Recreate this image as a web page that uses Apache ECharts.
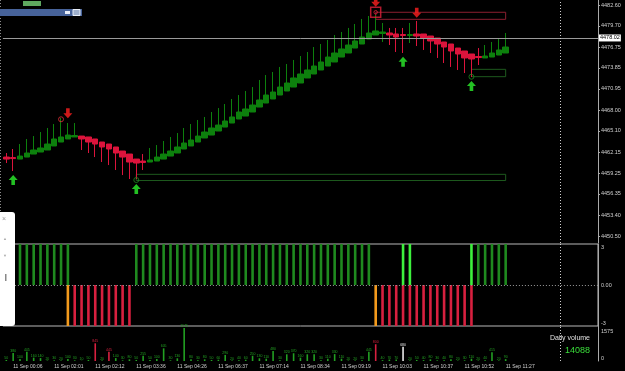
<!DOCTYPE html>
<html>
<head>
<meta charset="utf-8">
<script src="https://cdn.jsdelivr.net/npm/echarts@6.0.0/dist/echarts.min.js"></script>
<style>
  html, body { margin: 0; padding: 0; background: #000; }
  #chart { width: 625px; height: 371px; }
</style>
</head>
<body>
<div id="chart"></div>
<script>
// bar slots on the time axis (74 bars + empty shift area on the right)
const barSlots = 87
const timeLabels = ['11 Sep 00:06', '11 Sep 02:01', '11 Sep 02:12', '11 Sep 03:36', '11 Sep 04:26', '11 Sep 06:37',
  '11 Sep 07:14', '11 Sep 08:34', '11 Sep 09:19', '11 Sep 10:03', '11 Sep 10:37', '11 Sep 10:52', '11 Sep 11:27']
const timeLabelBars = [1, 7, 13, 19, 25, 31, 37, 43, 49, 55, 61, 67, 73]
const priceTicks = [4450.50, 4453.40, 4456.35, 4459.25, 4462.15, 4465.10, 4468.00, 4470.95, 4473.85, 4476.75, 4479.70, 4482.60]
const lastPrice = 4478.02

// heikin ashi candles
const haOpen = [4461.47, 4461.40, 4461.19, 4461.47, 4461.89, 4462.17, 4462.45, 4463.01, 4463.56, 4463.98,
  4464.26, 4464.39, 4464.26, 4463.98, 4463.56, 4463.28, 4462.87, 4462.31, 4461.89, 4461.19,
  4460.92, 4460.78, 4460.92, 4461.19, 4461.61, 4462.03, 4462.59, 4463.01, 4463.56, 4464.12,
  4464.53, 4465.09, 4465.64, 4466.20, 4466.76, 4467.17, 4467.73, 4468.42, 4468.98, 4469.54,
  4470.09, 4470.65, 4471.20, 4471.76, 4472.46, 4473.01, 4473.57, 4474.12, 4474.68, 4475.37,
  4475.93, 4476.62, 4477.18, 4477.87, 4478.43, 4478.64, 4478.71, 4478.57, 4478.50, 4478.36,
  4478.57, 4478.57, 4478.29, 4478.01, 4477.46, 4477.18, 4476.62, 4476.21, 4475.79, 4475.44,
  4475.24, 4475.37, 4475.65, 4475.93]
const haClose = [4461.19, 4461.26, 4461.61, 4462.03, 4462.45, 4462.73, 4463.28, 4463.98, 4464.26, 4464.53,
  4464.46, 4463.98, 4463.56, 4463.28, 4462.87, 4462.59, 4462.03, 4461.47, 4460.78, 4460.64,
  4460.71, 4461.06, 4461.47, 4461.89, 4462.31, 4462.87, 4463.42, 4463.84, 4464.39, 4464.95,
  4465.51, 4465.92, 4466.48, 4467.04, 4467.73, 4468.15, 4468.70, 4469.40, 4470.09, 4470.51,
  4471.20, 4471.76, 4472.46, 4473.01, 4473.57, 4474.12, 4474.68, 4475.37, 4475.93, 4476.49,
  4477.04, 4477.60, 4478.15, 4478.71, 4478.99, 4478.85, 4478.43, 4478.15, 4478.36, 4478.50,
  4478.29, 4478.01, 4477.60, 4477.18, 4476.76, 4476.21, 4475.79, 4475.24, 4475.10, 4475.30,
  4475.51, 4475.93, 4476.35, 4476.76]
const haLow = [4460.64, 4459.53, 4461.19, 4461.47, 4461.89, 4462.17, 4462.45, 4463.01, 4463.56, 4463.98,
  4464.26, 4462.45, 4462.03, 4461.47, 4460.78, 4460.36, 4459.67, 4458.97, 4458.42, 4458.42,
  4459.67, 4460.78, 4460.92, 4461.19, 4461.61, 4462.03, 4462.59, 4463.01, 4463.56, 4464.12,
  4464.53, 4465.09, 4465.64, 4466.20, 4466.76, 4467.17, 4467.73, 4468.42, 4468.98, 4469.54,
  4470.09, 4470.65, 4471.20, 4471.76, 4472.46, 4473.01, 4473.57, 4474.12, 4474.68, 4475.37,
  4475.93, 4476.62, 4477.18, 4477.87, 4478.43, 4477.46, 4477.04, 4476.07, 4475.93, 4477.32,
  4476.90, 4476.35, 4475.93, 4475.24, 4474.54, 4473.99, 4473.57, 4473.15, 4472.59, 4474.26,
  4475.24, 4475.37, 4475.65, 4475.93]
const haHigh = [4462.03, 4462.59, 4463.28, 4463.98, 4464.39, 4464.95, 4465.51, 4466.06, 4466.90, 4466.20,
  4466.20, 4464.39, 4464.26, 4463.98, 4463.56, 4463.28, 4462.87, 4462.31, 4461.89, 4461.19,
  4461.89, 4462.73, 4463.14, 4463.70, 4464.26, 4464.81, 4465.51, 4466.06, 4466.62, 4467.04,
  4467.73, 4468.28, 4468.84, 4469.54, 4470.09, 4470.65, 4471.20, 4472.18, 4472.87, 4473.29,
  4473.99, 4474.40, 4474.96, 4475.51, 4476.07, 4476.76, 4477.18, 4477.74, 4478.43, 4478.85,
  4479.41, 4479.96, 4480.66, 4481.07, 4481.21, 4480.10, 4479.41, 4479.41, 4479.41, 4480.10,
  4480.38, 4478.57, 4478.29, 4478.01, 4477.46, 4477.18, 4476.62, 4476.21, 4475.79, 4476.62,
  4477.04, 4477.46, 4478.01, 4478.71]

// signal markers [bar, price]
const buyArrows = [[1, 4458.28], [19, 4457.02], [58, 4474.72], [68, 4471.34]]
const sellArrows = [[9, 4467.55], [54, 4483.06], [60, 4481.53]]
const redCircles = [[8, 4466.72]]
const greenCircles = [[19, 4458.28], [68, 4472.63]]
const redSquares = [[54, 4481.59]]
// zones [startBar, endBar, low, high]
const redZones = [[54, 73, 4480.61, 4481.59]]
const greenZones = [[68, 73, 4472.64, 4473.66], [19, 73, 4458.21, 4459.07]]

// trend histogram
const histUp = [null, null, 3, 3, 3, 3, 3, 3, 3, 3,
  null, null, null, null, null, null, null, null, null, 3,
  3, 3, 3, 3, 3, 3, 3, 3, 3, 3,
  3, 3, 3, 3, 3, 3, 3, 3, 3, 3,
  3, 3, 3, 3, 3, 3, 3, 3, 3, 3,
  3, 3, 3, 3, null, null, null, null, 3, 3,
  null, null, null, null, null, null, null, null, 3, 3,
  3, 3, 3, 3]
const histDown = [null, null, null, null, null, null, null, null, null, -3,
  -3, -3, -3, -3, -3, -3, -3, -3, -3, null,
  null, null, null, null, null, null, null, null, null, null,
  null, null, null, null, null, null, null, null, null, null,
  null, null, null, null, null, null, null, null, null, null,
  null, null, null, null, -3, -3, -3, -3, -3, -3,
  -3, -3, -3, -3, -3, -3, -3, -3, -3, null,
  null, null, null, null]
const upBrightBars = [58, 59, 68]
const downOrangeBars = [9, 54]

// tick volume
const volume = [50, 380, 100, 445, 160, 140, 20, 30, 20, 100,
  30, 10, 50, 845, 20, 445, 140, 30, 80, 50,
  255, 50, 100, 605, 30, 130, 1575, 80, 30, 80,
  50, 60, 290, 20, 40, 60, 250, 130, 110, 480,
  30, 320, 370, 160, 320, 320, 30, 110, 330, 110,
  20, 20, 30, 445, 800, 40, 70, 70, 680, 20,
  50, 40, 80, 30, 40, 80, 20, 30, 110, 20,
  40, 415, 20, 90]
const volRedBars = [13, 15, 54]
const volWhiteBars = [58]
const volTicks = [0, 1575]
const dailyVolume = '14088'

const GREEN = '#0d800d'
const RED = '#dc143c'
const LABEL = '#d0d0d0'
const FONT = 'Liberation Sans, Arial, sans-serif'

var categories = []
for (var i = 0; i < barSlots; i++) {
  var k = timeLabelBars.indexOf(i)
  categories.push(k >= 0 ? timeLabels[k] : 'b' + i)
}

var myChart = echarts.init(document.getElementById('chart'), null, { renderer: 'canvas' })

var upArrow = 'path://M5,0 L10,5 L7,5 L7,10 L3,10 L3,5 L0,5 Z'
var downArrow = 'path://M3,0 L7,0 L7,5 L10,5 L5,10 L0,5 L3,5 Z'
var sepLine = { xAxis: 81, lineStyle: { color: '#cfcfcf', type: [1, 2], width: 1 }, label: { show: false } }

function xAx(idx, showLabel) {
  return {
    type: 'category', gridIndex: idx, data: categories, boundaryGap: true,
    axisLine: { show: false }, axisTick: { show: false },
    axisLabel: showLabel ? {
      show: true, color: LABEL, fontSize: 5, fontFamily: FONT, align: 'left', margin: 3,
      interval: function (i) { return timeLabelBars.indexOf(i) >= 0 }
    } : { show: false },
    splitLine: { show: false }
  }
}

var option = {
  backgroundColor: '#000',
  animation: false,
  grid: [
    { left: 2.9, right: 27, top: 0, height: 243 },
    { left: 2.9, right: 27, top: 244, height: 82, show: true, borderColor: '#b8b8b8', borderWidth: 1, backgroundColor: 'transparent' },
    { left: 2.9, right: 27, top: 326, height: 35 }
  ],
  xAxis: [xAx(0, false), xAx(1, false), xAx(2, true)],
  yAxis: [
    {
      type: 'value', gridIndex: 0, position: 'right', min: 4449.528, max: 4483.295,
      axisLine: { show: true, lineStyle: { color: '#aaa' } },
      axisTick: { show: true, length: 2, customValues: priceTicks, lineStyle: { color: '#aaa' } },
      axisLabel: { customValues: priceTicks, color: LABEL, fontSize: 5.5, fontFamily: FONT, margin: 3, formatter: function (v) { return v.toFixed(2) } },
      splitLine: { show: false }
    },
    {
      type: 'value', gridIndex: 1, position: 'right', min: -3, max: 3,
      axisLine: { show: true, lineStyle: { color: '#aaa' } },
      axisTick: { show: false },
      axisLabel: {
        customValues: [-3, 0, 3], color: LABEL, fontSize: 5.5, fontFamily: FONT, margin: 3,
        verticalAlignMaxLabel: 'top', verticalAlignMinLabel: 'bottom',
        formatter: function (v) { return v === 0 ? '0.00' : String(v) }
      },
      splitLine: { show: false }
    },
    {
      type: 'value', gridIndex: 2, position: 'right', min: 0, max: 1670,
      axisLine: { show: true, lineStyle: { color: '#aaa' } },
      axisTick: { show: false },
      axisLabel: {
        customValues: volTicks, color: LABEL, fontSize: 5.5, fontFamily: FONT, margin: 3,
        verticalAlignMaxLabel: 'top', verticalAlignMinLabel: 'bottom',
        formatter: function (v) { return String(v) }
      },
      splitLine: { show: false }
    }
  ],
  series: [
    {
      type: 'candlestick', xAxisIndex: 0, yAxisIndex: 0, barWidth: 6,
      data: haOpen.map(function (o, i) { return [o, haClose[i], haLow[i], haHigh[i]] }),
      itemStyle: { color: GREEN, color0: RED, borderColor: GREEN, borderColor0: RED, borderWidth: 1 },
      markLine: {
        silent: true, symbol: ['none', 'none'],
        data: [
          { yAxis: lastPrice, lineStyle: { color: '#9a9a9a', type: 'solid', width: 1 },
            label: { show: true, position: 'end', distance: 1, formatter: lastPrice.toFixed(2), backgroundColor: '#fff',
              color: '#000', fontSize: 5.5, fontFamily: FONT, padding: [1, 1, 0, 1] } },
          sepLine
        ]
      },
      markArea: {
        silent: true,
        data: redZones.map(function (z) {
          return [{ xAxis: z[0], yAxis: z[3], itemStyle: { color: 'transparent', borderColor: '#8c1f30', borderWidth: 1 } }, { xAxis: z[1], yAxis: z[2] }]
        }).concat(greenZones.map(function (z) {
          return [{ xAxis: z[0], yAxis: z[3], itemStyle: { color: 'transparent', borderColor: '#1e5a1e', borderWidth: 1 } }, { xAxis: z[1], yAxis: z[2] }]
        }))
      }
    },
    { type: 'scatter', xAxisIndex: 0, yAxisIndex: 0, data: buyArrows, symbol: upArrow, symbolSize: [9, 10], itemStyle: { color: '#2cf02c' }, z: 5 },
    { type: 'scatter', xAxisIndex: 0, yAxisIndex: 0, data: sellArrows, symbol: downArrow, symbolSize: [9, 10], itemStyle: { color: '#ff1f1f' }, z: 5 },
    { type: 'scatter', xAxisIndex: 0, yAxisIndex: 0, data: redCircles, symbol: 'circle', symbolSize: 5, itemStyle: { color: 'transparent', borderColor: '#e0303a', borderWidth: 1 }, z: 5 },
    { type: 'scatter', xAxisIndex: 0, yAxisIndex: 0, data: greenCircles, symbol: 'circle', symbolSize: 5, itemStyle: { color: 'transparent', borderColor: '#1e8a1e', borderWidth: 1 }, z: 5 },
    { type: 'scatter', xAxisIndex: 0, yAxisIndex: 0, data: redSquares, symbol: 'rect', symbolSize: 10, itemStyle: { color: 'transparent', borderColor: '#e0203a', borderWidth: 1.5 }, z: 5 },
    { type: 'scatter', xAxisIndex: 0, yAxisIndex: 0, data: redSquares, symbol: 'circle', symbolSize: 3.5, itemStyle: { color: 'transparent', borderColor: '#e0203a', borderWidth: 1 }, z: 5 },
    {
      type: 'bar', xAxisIndex: 1, yAxisIndex: 1, barWidth: 2.6, barGap: '-100%',
      data: histUp.map(function (v, i) {
        return { value: v, itemStyle: { color: upBrightBars.indexOf(i) >= 0 ? '#3df03d' : '#1f8a1f' } }
      }),
      markLine: {
        silent: true, symbol: ['none', 'none'],
        data: [
          { yAxis: 0, lineStyle: { color: '#9a9a9a', type: [1, 2], width: 1 }, label: { show: false } },
          sepLine
        ]
      }
    },
    {
      type: 'bar', xAxisIndex: 1, yAxisIndex: 1, barWidth: 2.6, barGap: '-100%',
      data: histDown.map(function (v, i) {
        return { value: v, itemStyle: { color: downOrangeBars.indexOf(i) >= 0 ? '#f39a1c' : '#d8203f' } }
      })
    },
    {
      type: 'bar', xAxisIndex: 2, yAxisIndex: 2, barWidth: 1.6,
      data: volume.map(function (v, i) {
        var c = volRedBars.indexOf(i) >= 0 ? '#d8203f' : (volWhiteBars.indexOf(i) >= 0 ? '#e8e8e8' : '#22a022')
        return { value: v, itemStyle: { color: c }, label: { color: c } }
      }),
      label: { show: true, position: 'top', distance: 0, fontSize: 3.5, fontFamily: FONT },
      markLine: { silent: true, symbol: ['none', 'none'], data: [sepLine] }
    }
  ],
  graphic: [
    { type: 'line', shape: { x1: 0.5, y1: 0, x2: 0.5, y2: 212 }, style: { stroke: '#8a8a8a', lineDash: [1, 2] } },
    { type: 'rect', shape: { x: 23, y: 1, width: 18, height: 5 }, style: { fill: '#5fa85f' } },
    { type: 'rect', shape: { x: 0, y: 9, width: 82, height: 7 }, style: { fill: '#47639a' } },
    { type: 'rect', shape: { x: 65, y: 11, width: 5, height: 3 }, style: { fill: '#e8eef8' } },
    { type: 'rect', shape: { x: 73, y: 9.5, width: 7, height: 6 }, style: { fill: '#9fb0cc', stroke: '#e8eef8', lineWidth: 1 } },
    { type: 'rect', shape: { x: 0, y: 212, width: 15, height: 114, r: [0, 3, 3, 0] }, style: { fill: '#ffffff' }, z: 10 },
    { type: 'text', x: 2, y: 216, style: { text: '×', fill: '#999', fontSize: 7, fontFamily: FONT }, z: 11 },
    { type: 'text', x: 3, y: 237, style: { text: '▲', fill: '#aaa', fontSize: 4, fontFamily: FONT }, z: 11 },
    { type: 'text', x: 3, y: 254, style: { text: '▼', fill: '#aaa', fontSize: 4, fontFamily: FONT }, z: 11 },
    { type: 'rect', shape: { x: 5, y: 274, width: 1.5, height: 7 }, style: { fill: '#888' }, z: 11 },
    { type: 'text', x: 590, y: 335, style: { text: 'Daily volume', fill: '#e0e0e0', fontSize: 7, fontFamily: FONT, align: 'right' } },
    { type: 'text', x: 590, y: 346, style: { text: dailyVolume, fill: '#3ade3a', fontSize: 9, fontFamily: FONT, align: 'right' } }
  ]
}

option && myChart.setOption(option)
window.addEventListener('resize', myChart.resize)
</script>
</body>
</html>
